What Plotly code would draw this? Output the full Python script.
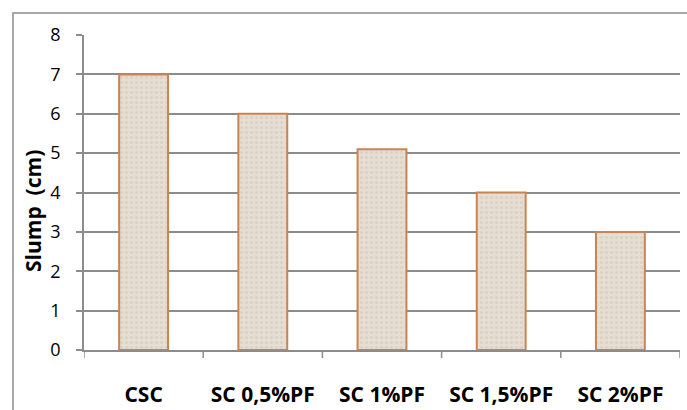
import plotly.graph_objects as go

# Slump test results per concrete mix
categories = ["CSC", "SC 0,5%PF", "SC 1%PF", "SC 1,5%PF", "SC 2%PF"]
slump_cm = [7, 6, 5.1, 4, 3]
y_ticks = [0, 1, 2, 3, 4, 5, 6, 7, 8]

W, H = 687, 410
L, R, T, B = 84, 680, 35, 350
pw, ph = R - L, B - T

fig = go.Figure(
    go.Bar(
        x=categories,
        y=slump_cm,
        width=0.41,
        marker=dict(
            color="#E6DED2",
            line=dict(color="#C98452", width=2),
            pattern=dict(shape=".", bgcolor="#E6DED2", fgcolor="#DBD2C4",
                         size=5, solidity=0.3, fillmode="replace"),
        ),
        hoverinfo="x+y",
    )
)

fig.update_layout(
    width=W, height=H,
    margin=dict(l=L, r=W - R, t=T, b=H - B, pad=0, autoexpand=False),
    paper_bgcolor="white",
    plot_bgcolor="white",
    showlegend=False,
    font=dict(family="Open Sans, Liberation Sans, sans-serif", color="black"),
    xaxis=dict(
        showline=True, linecolor="#8C8C8C", linewidth=1.5,
        ticks="", showgrid=False, automargin=False,
        tickfont=dict(size=21, weight="bold"),
        ticklabelstandoff=25,
        range=[-0.5, 4.5],
    ),
    yaxis=dict(
        range=[0, 8], tickvals=y_ticks, automargin=False,
        showgrid=True, gridcolor="#8C8C8C", gridwidth=1.5,
        showline=True, linecolor="#8C8C8C", linewidth=1.5,
        ticks="outside", ticklen=6, tickcolor="#8C8C8C", tickwidth=1.5,
        tickfont=dict(size=18),
        ticklabelstandoff=12,
        zeroline=False,
    ),
    annotations=[
        dict(text="Slump  (cm)", textangle=-90,
             x=(33 - L) / pw, y=(B - 211) / ph,
             xref="paper", yref="paper", showarrow=False,
             font=dict(size=21, weight="bold"),
             xanchor="center", yanchor="middle"),
    ],
)

# category separator ticks below the x axis
for i in range(len(categories) + 1):
    fig.add_shape(type="line", xref="x", yref="paper",
                  x0=i - 0.5, x1=i - 0.5, y0=0, y1=-8 / ph,
                  line=dict(color="#8C8C8C", width=1.5))

# outer chart frame
fig.add_shape(type="rect", xref="paper", yref="paper",
              x0=(13 - L) / pw, x1=(720 - L) / pw,
              y0=(B - 440) / ph, y1=(B - 13) / ph,
              line=dict(color="#8C8C8C", width=1.5), layer="below")

fig.write_html("out.html")
